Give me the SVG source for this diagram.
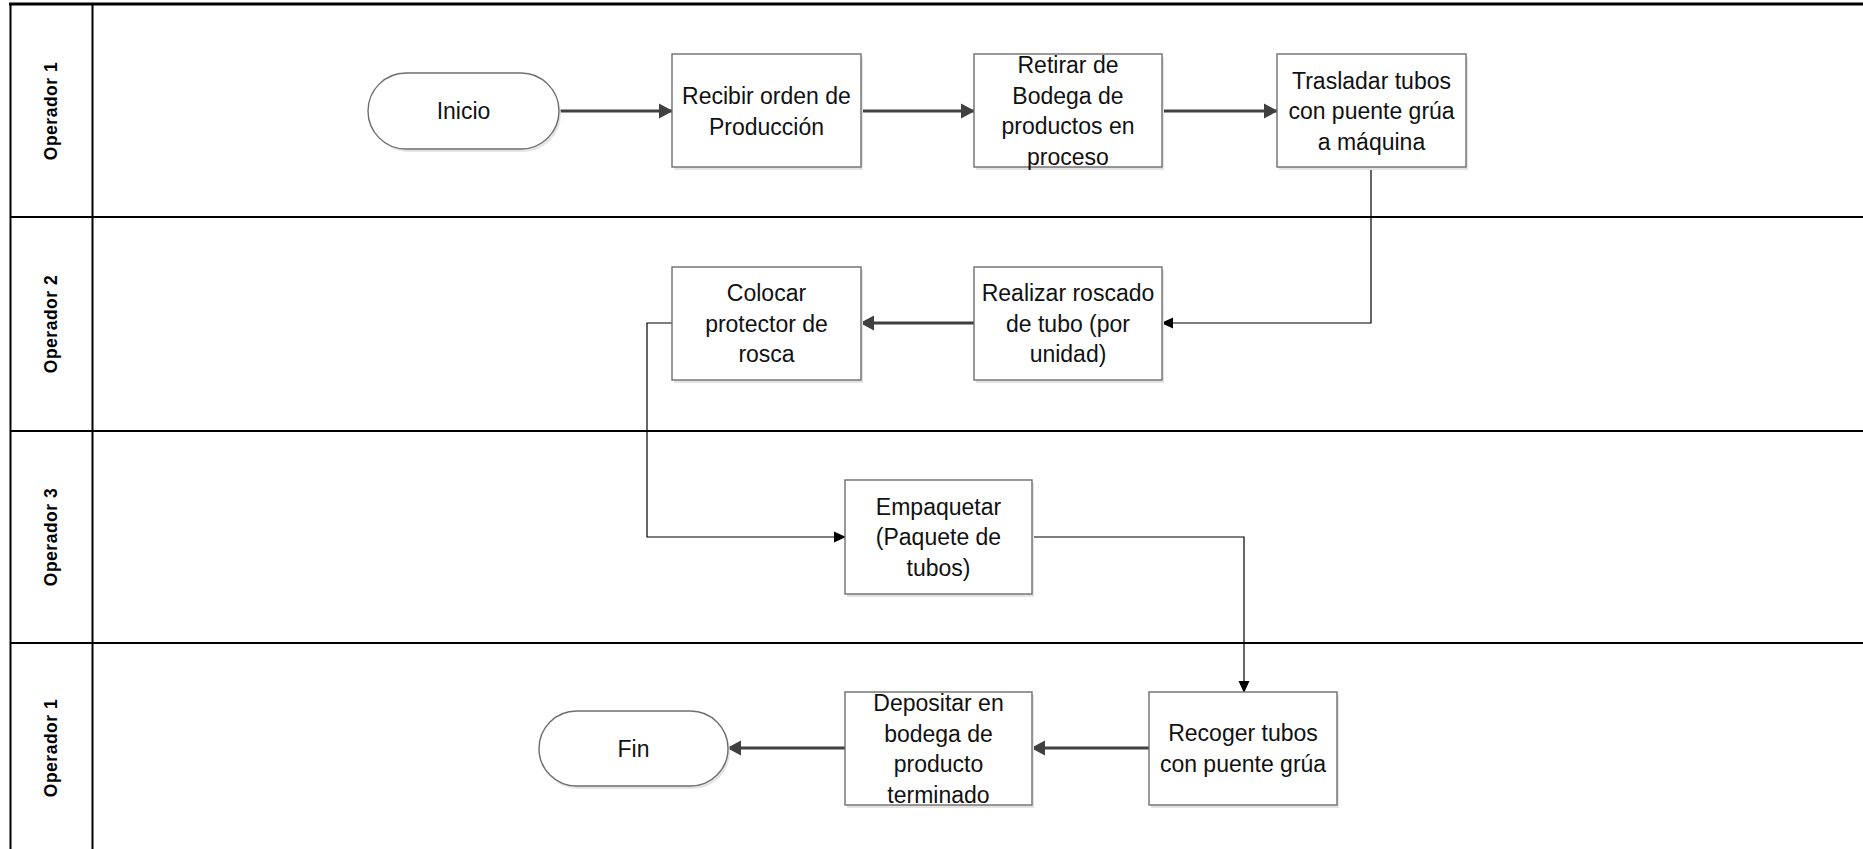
<svg xmlns="http://www.w3.org/2000/svg" width="1863" height="849" viewBox="0 0 1863 849">
<style>
.lane{stroke:#000;stroke-width:2;fill:none}
.lbl{font-family:"Liberation Sans",Arial,sans-serif;font-weight:bold;font-size:17.5px;letter-spacing:0.5px;fill:#000;text-anchor:middle;dominant-baseline:central}
.box{fill:#fff;stroke:#6e6e6e;stroke-width:1.4}
.shadow{fill:#e4e4e4;stroke:none}
.t{font-family:"Liberation Sans",Arial,sans-serif;font-size:23px;fill:#111;text-anchor:middle;dominant-baseline:central}
.thick{stroke:#404040;stroke-width:3;fill:none}
.thin{stroke:#000;stroke-width:1.2;fill:none}
</style>
<defs>
<marker id="ah" markerUnits="userSpaceOnUse" markerWidth="14" markerHeight="16" refX="13" refY="8" orient="auto">
<path d="M0,0.5 L14,8 L0,15.5 z" fill="#404040"/>
</marker>
<marker id="as" markerUnits="userSpaceOnUse" markerWidth="12" markerHeight="12" refX="11" refY="6" orient="auto">
<path d="M0,0.5 L12,6 L0,11.5 z" fill="#000"/>
</marker>
</defs>
<rect width="1863" height="849" fill="#fff"/>
<g id="lanes">
<line class="lane" x1="9" y1="4" x2="1863" y2="4" style="stroke-width:3"/>
<line class="lane" x1="10.5" y1="217" x2="1863" y2="217"/>
<line class="lane" x1="10.5" y1="431" x2="1863" y2="431"/>
<line class="lane" x1="10.5" y1="643" x2="1863" y2="643"/>
<line class="lane" x1="10.5" y1="3" x2="10.5" y2="849"/>
<line class="lane" x1="92.5" y1="3" x2="92.5" y2="849"/>
<text class="lbl" transform="translate(51,111) rotate(-90)">Operador 1</text>
<text class="lbl" transform="translate(51,324) rotate(-90)">Operador 2</text>
<text class="lbl" transform="translate(51,537) rotate(-90)">Operador 3</text>
<text class="lbl" transform="translate(51,748) rotate(-90)">Operador 1</text>
</g>
<g id="connectors">
<path class="thick" d="M559,111 H672" marker-end="url(#ah)"/>
<path class="thick" d="M861,111 H974" marker-end="url(#ah)"/>
<path class="thick" d="M1162,111 H1277" marker-end="url(#ah)"/>
<path class="thin" d="M1371,167 V323 H1162" marker-end="url(#as)"/>
<path class="thick" d="M974,323 H861" marker-end="url(#ah)"/>
<path class="thin" d="M672,323 H647 V537 H845" marker-end="url(#as)"/>
<path class="thin" d="M1032,537 H1244 V692" marker-end="url(#as)"/>
<path class="thick" d="M1149,748 H1032" marker-end="url(#ah)"/>
<path class="thick" d="M845,748 H728" marker-end="url(#ah)"/>
</g>
<g id="inicio">
<rect class="shadow" x="370" y="76" width="191" height="76" rx="38"/>
<rect class="box" x="368" y="73" width="191" height="76" rx="38"/>
<text class="t" x="463.5" y="111">Inicio</text>
</g>
<g id="recibir">
<rect class="shadow" x="674" y="57" width="189" height="113"/>
<rect class="box" x="672" y="54" width="189" height="113"/>
<text class="t" x="766.5" y="96">Recibir orden de</text>
<text class="t" x="766.5" y="126.5">Producción</text>
</g>
<g id="retirar">
<rect class="shadow" x="976" y="57" width="188" height="113"/>
<rect class="box" x="974" y="54" width="188" height="113"/>
<text class="t" x="1068" y="65">Retirar de</text>
<text class="t" x="1068" y="95.5">Bodega de</text>
<text class="t" x="1068" y="126">productos en</text>
<text class="t" x="1068" y="156.5">proceso</text>
</g>
<g id="trasladar">
<rect class="shadow" x="1279" y="57" width="189" height="113"/>
<rect class="box" x="1277" y="54" width="189" height="113"/>
<text class="t" x="1371.5" y="80.5">Trasladar tubos</text>
<text class="t" x="1371.5" y="111">con puente grúa</text>
<text class="t" x="1371.5" y="141.5">a máquina</text>
</g>
<g id="realizar">
<rect class="shadow" x="976" y="270" width="188" height="113"/>
<rect class="box" x="974" y="267" width="188" height="113"/>
<text class="t" x="1068" y="293">Realizar roscado</text>
<text class="t" x="1068" y="323.5">de tubo (por</text>
<text class="t" x="1068" y="354">unidad)</text>
</g>
<g id="colocar">
<rect class="shadow" x="674" y="270" width="189" height="113"/>
<rect class="box" x="672" y="267" width="189" height="113"/>
<text class="t" x="766.5" y="293">Colocar</text>
<text class="t" x="766.5" y="323.5">protector de</text>
<text class="t" x="766.5" y="354">rosca</text>
</g>
<g id="empaquetar">
<rect class="shadow" x="847" y="483" width="187" height="114"/>
<rect class="box" x="845" y="480" width="187" height="114"/>
<text class="t" x="938.5" y="506.5">Empaquetar</text>
<text class="t" x="938.5" y="537">(Paquete de</text>
<text class="t" x="938.5" y="567.5">tubos)</text>
</g>
<g id="recoger">
<rect class="shadow" x="1151" y="695" width="188" height="113"/>
<rect class="box" x="1149" y="692" width="188" height="113"/>
<text class="t" x="1243" y="733">Recoger tubos</text>
<text class="t" x="1243" y="763.5">con puente grúa</text>
</g>
<g id="depositar">
<rect class="shadow" x="847" y="695" width="187" height="113"/>
<rect class="box" x="845" y="692" width="187" height="113"/>
<text class="t" x="938.5" y="703">Depositar en</text>
<text class="t" x="938.5" y="733.5">bodega de</text>
<text class="t" x="938.5" y="764">producto</text>
<text class="t" x="938.5" y="794.5">terminado</text>
</g>
<g id="fin">
<rect class="shadow" x="541" y="714" width="189" height="75" rx="37.5"/>
<rect class="box" x="539" y="711" width="189" height="75" rx="37.5"/>
<text class="t" x="633.5" y="748.5">Fin</text>
</g>
</svg>
